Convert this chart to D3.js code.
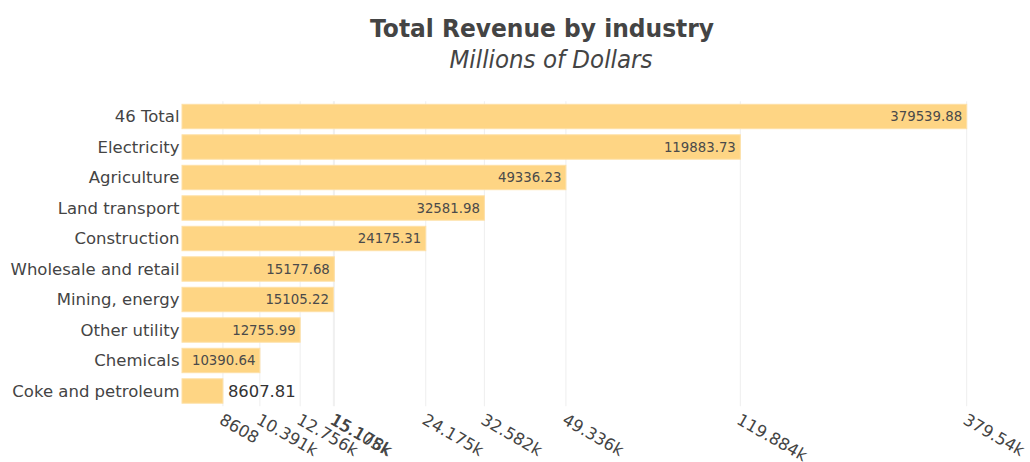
<!DOCTYPE html>
<html>
<head>
<meta charset="utf-8">
<script src="https://cdn.jsdelivr.net/npm/d3@7"></script>
<style>
  html, body { margin: 0; padding: 0; background: #fff; }
  svg { display: block; font-family: "DejaVu Sans", Verdana, sans-serif; }
</style>
</head>
<body>
<svg id="chart" width="1030" height="462"></svg>
<script>
// Revenue by industry, millions of dollars
const categories = ["46 Total", "Electricity", "Agriculture", "Land transport", "Construction",
  "Wholesale and retail", "Mining, energy", "Other utility", "Chemicals", "Coke and petroleum"];
const values = [379539.88, 119883.73, 49336.23, 32581.98, 24175.31,
  15177.68, 15105.22, 12755.99, 10390.64, 8607.81];
const valueLabels = ["379539.88", "119883.73", "49336.23", "32581.98", "24175.31",
  "15177.68", "15105.22", "12755.99", "10390.64", "8607.81"];
const tickLabels = ["379.54k", "119.884k", "49.336k", "32.582k", "24.175k",
  "15.178k", "15.105k", "12.756k", "10.391k", "8608"];

const svg = d3.select("#chart");
const plot = { left: 182, right: 966.7, top: 101.25, bottom: 406.25 };

const x = d3.scaleLog()
  .domain([6990, d3.max(values)])
  .range([plot.left, plot.right]);

const y = d3.scaleBand()
  .domain(categories)
  .range([plot.top, plot.bottom])
  .paddingInner(0.2)
  .paddingOuter(0.1);

// vertical gridlines at each bar value
svg.append("g")
  .selectAll("line")
  .data(values)
  .join("line")
  .attr("x1", d => x(d)).attr("x2", d => x(d))
  .attr("y1", plot.top).attr("y2", plot.bottom)
  .attr("stroke", "#eeeeee")
  .attr("stroke-width", 1);

// bars
svg.append("g")
  .selectAll("rect")
  .data(values)
  .join("rect")
  .attr("x", plot.left)
  .attr("y", (d, i) => y(categories[i]))
  .attr("width", d => x(d) - plot.left)
  .attr("height", y.bandwidth())
  .attr("fill", "#fed584")
  .attr("stroke", "#fee0a6")
  .attr("stroke-width", 1);

// value labels: inside the bar end when they fit, otherwise just past it
const labelG = svg.append("g");
values.forEach((v, i) => {
  const cy = y(categories[i]) + y.bandwidth() / 2;
  const t = labelG.append("text")
    .attr("font-size", "13.3px")
    .attr("fill", "#4a4a4a")
    .attr("dy", "0.36em")
    .text(valueLabels[i]);
  const w = t.node().getComputedTextLength();
  const barW = x(v) - plot.left;
  if (w + 8 <= barW) {
    t.attr("x", x(v) - 4.5).attr("y", cy).attr("text-anchor", "end");
  } else {
    t.attr("font-size", "16.4px").attr("fill", "#333")
      .attr("x", x(v) + 5).attr("y", cy).attr("text-anchor", "start");
  }
});

// category axis labels
svg.append("g")
  .selectAll("text")
  .data(categories)
  .join("text")
  .attr("x", 179.5)
  .attr("y", d => y(d) + y.bandwidth() / 2)
  .attr("dy", "0.36em")
  .attr("text-anchor", "end")
  .attr("font-size", "16.5px")
  .attr("fill", "#444")
  .text(d => d);

// rotated value-axis tick labels
const xAxis = d3.axisBottom(x)
  .tickValues(values)
  .tickFormat((d, i) => tickLabels[i])
  .tickSize(0)
  .tickPadding(0);

const axisG = svg.append("g")
  .attr("transform", `translate(0,${plot.bottom})`)
  .call(xAxis);
axisG.select(".domain").remove();
axisG.selectAll(".tick text")
  .attr("font-family", "DejaVu Sans, Verdana, sans-serif")
  .attr("font-size", "16.5px")
  .attr("fill", "#444")
  .attr("text-anchor", "start")
  .attr("y", 0)
  .attr("dy", "0.75em")
  .attr("transform", "translate(1,6) rotate(30)");

// title and subtitle
svg.append("text")
  .attr("x", 542).attr("y", 36.5)
  .attr("text-anchor", "middle")
  .attr("font-size", "25px")
  .attr("font-weight", "bold")
  .attr("fill", "#444")
  .attr("textLength", 344)
  .attr("lengthAdjust", "spacingAndGlyphs")
  .text("Total Revenue by industry");

svg.append("text")
  .attr("x", 551).attr("y", 68.3)
  .attr("text-anchor", "middle")
  .attr("font-size", "25px")
  .attr("font-style", "italic")
  .attr("fill", "#444")
  .attr("textLength", 203)
  .attr("lengthAdjust", "spacingAndGlyphs")
  .text("Millions of Dollars");
</script>
</body>
</html>
